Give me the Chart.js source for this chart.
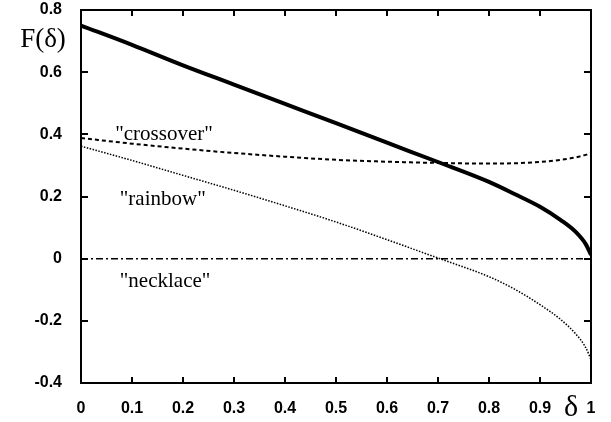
<!DOCTYPE html>
<html>
<head>
<meta charset="utf-8">
<script src="https://cdn.jsdelivr.net/npm/chart.js@4"></script>
<style>
  html, body { margin: 0; padding: 0; background: #fff; }
  #wrap { width: 611px; height: 422px; }
</style>
</head>
<body>
<div id="wrap"><canvas id="myChart" width="611" height="422"></canvas></div>
<script>
// values
const delta = [0, 0.1, 0.2, 0.3, 0.4, 0.5, 0.6, 0.7, 0.8, 0.85, 0.9, 0.94, 0.97, 0.99, 1];
const solidF = [0.75, 0.688, 0.622, 0.56, 0.498, 0.436, 0.373, 0.311, 0.247, 0.208, 0.167, 0.125, 0.086, 0.046, 0.012];
const crossoverF = [0.388, 0.37, 0.354, 0.34, 0.328, 0.318, 0.312, 0.308, 0.306, 0.307, 0.311, 0.318, 0.326, 0.334, 0.34];
const rainbowF = [0.362, 0.316, 0.268, 0.22, 0.17, 0.118, 0.061, 0.002, -0.058, -0.098, -0.148, -0.195, -0.242, -0.287, -0.325];
const necklaceF = [0, 0, 0, 0, 0, 0, 0, 0, 0, 0, 0, 0, 0, 0, 0];

const xTicks = [0, 0.1, 0.2, 0.3, 0.4, 0.5, 0.6, 0.7, 0.8, 0.9, 1];
const yTicks = [-0.4, -0.2, 0, 0.2, 0.4, 0.6, 0.8];

// curve labels, placed in data units
const curveLabels = [
  { text: '"crossover"', x: 0.067, y: 0.383 },
  { text: '"rainbow"', x: 0.076, y: 0.174 },
  { text: '"necklace"', x: 0.076, y: -0.09 }
];

const pts = (ys) => delta.map((d, i) => ({ x: d, y: ys[i] }));

// frame, inward ticks on all four sides, titles and curve labels
const framePlugin = {
  id: "frame",
  afterDatasetsDraw(chart) {
    const ctx = chart.ctx;
    const a = chart.chartArea;
    const xs = chart.scales.x;
    const ys = chart.scales.y;
    ctx.save();
    ctx.strokeStyle = "#000";
    ctx.lineWidth = 2;
    ctx.strokeRect(a.left, a.top, a.right - a.left, a.bottom - a.top);
    ctx.beginPath();
    xTicks.forEach((t) => {
      const px = Math.round(xs.getPixelForValue(t));
      ctx.moveTo(px, a.bottom); ctx.lineTo(px, a.bottom - 6);
      ctx.moveTo(px, a.top); ctx.lineTo(px, a.top + 6);
    });
    yTicks.forEach((t) => {
      const py = Math.round(ys.getPixelForValue(t));
      ctx.moveTo(a.left, py); ctx.lineTo(a.left + 7, py);
      ctx.moveTo(a.right, py); ctx.lineTo(a.right - 7, py);
    });
    ctx.stroke();

    ctx.fillStyle = "#000";
    ctx.font = '21px "Liberation Serif", "Times New Roman", serif';
    ctx.textAlign = "left";
    ctx.textBaseline = "alphabetic";
    curveLabels.forEach((l) => {
      ctx.fillText(l.text, xs.getPixelForValue(l.x), ys.getPixelForValue(l.y));
    });

    ctx.font = '27px "Liberation Serif", "Times New Roman", serif';
    ctx.textAlign = "center";
    ctx.textBaseline = "middle";
    ctx.fillText("F(δ)", 43, 40);
    ctx.font = '30px "Liberation Serif", "Times New Roman", serif';
    ctx.fillText("δ", 571, 408);
    ctx.restore();
  }
};

const tickFont = { family: "Liberation Sans", size: 16, weight: "bold" };

const myChart = new Chart("myChart", {
  type: "scatter",
  data: {
    datasets: [
      {
        label: "solid",
        data: pts(solidF),
        showLine: true,
        borderColor: "#000",
        borderWidth: 4,
        pointRadius: 0,
        cubicInterpolationMode: "monotone"
      },
      {
        label: "crossover",
        data: pts(crossoverF),
        showLine: true,
        borderColor: "#000",
        borderWidth: 2,
        borderDash: [4, 3],
        pointRadius: 0,
        cubicInterpolationMode: "monotone"
      },
      {
        label: "rainbow",
        data: pts(rainbowF),
        showLine: true,
        borderColor: "#000",
        borderWidth: 1.5,
        borderDash: [1.5, 1.5],
        pointRadius: 0,
        cubicInterpolationMode: "monotone"
      },
      {
        label: "necklace",
        data: pts(necklaceF),
        showLine: true,
        borderColor: "#000",
        borderWidth: 1.5,
        borderDash: [7, 3, 2, 3],
        pointRadius: 0
      }
    ]
  },
  options: {
    responsive: false,
    animation: false,
    layout: { padding: { top: 0, right: 20, left: 0, bottom: 0 } },
    plugins: { legend: { display: false }, tooltip: { enabled: false } },
    scales: {
      x: {
        type: "linear",
        min: 0,
        max: 1,
        afterBuildTicks: (s) => { s.ticks = xTicks.map((v) => ({ value: v })); },
        afterFit: (s) => { s.height = 39; },
        grid: { display: false },
        border: { display: false },
        ticks: { color: "#000", font: tickFont, padding: 8, maxRotation: 0, callback: (v) => String(v) }
      },
      y: {
        type: "linear",
        min: -0.4,
        max: 0.8,
        afterBuildTicks: (s) => { s.ticks = yTicks.map((v) => ({ value: v })); },
        afterFit: (s) => { s.width = 81; s.paddingTop = 10; s.paddingBottom = 0; },
        grid: { display: false },
        border: { display: false },
        ticks: { color: "#000", font: tickFont, padding: 11, callback: (v) => String(v) }
      }
    }
  },
  plugins: [framePlugin]
});
</script>
</body>
</html>
